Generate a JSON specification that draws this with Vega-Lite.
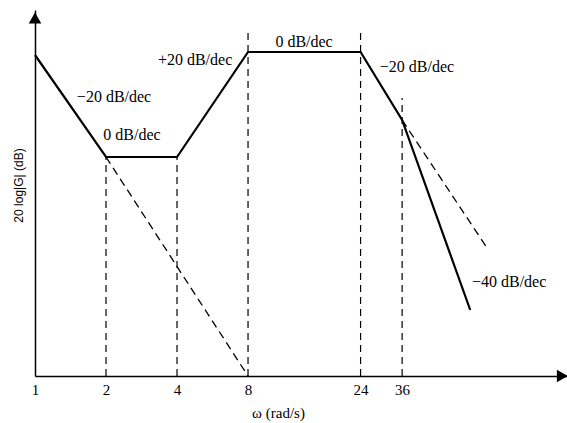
{
  "$schema": "https://vega.github.io/schema/vega-lite/v6.json",
  "width": 532,
  "height": 366,
  "autosize": "none",
  "padding": {"left": 35, "top": 10, "right": 0, "bottom": 47},
  "background": "white",
  "config": {"view": {"stroke": null}},
  "datasets": {
    "main": [
      {"w": 1, "db": 321},
      {"w": 2, "db": 219},
      {"w": 4, "db": 219},
      {"w": 8, "db": 324},
      {"w": 24, "db": 324},
      {"w": 36, "db": 256},
      {"w": 70, "db": 66}
    ],
    "asym": [
      {"g": "a", "w": 2, "db": 219},
      {"g": "a", "w": 8, "db": 0},
      {"g": "b", "w": 36, "db": 256},
      {"g": "b", "w": 82.5, "db": 128}
    ],
    "verts": [
      {"w": 2, "lo": 0, "hi": 219},
      {"w": 4, "lo": 0, "hi": 219},
      {"w": 8, "lo": 0, "hi": 343},
      {"w": 24, "lo": 0, "hi": 343},
      {"w": 36, "lo": 0, "hi": 278}
    ],
    "labels": [
      {"w": 2.163, "db": 279, "t": "−20 dB/dec"},
      {"w": 2.578, "db": 241, "t": "0 dB/dec"},
      {"w": 4.77, "db": 316, "t": "+20 dB/dec"},
      {"w": 13.82, "db": 334, "t": "0 dB/dec"},
      {"w": 41.6, "db": 309, "t": "−20 dB/dec"},
      {"w": 102.3, "db": 94, "t": "−40 dB/dec"}
    ],
    "arrows": [
      {"w": 1, "db": 358, "s": "triangle-up"},
      {"w": 172, "db": 0, "s": "triangle-right"}
    ]
  },
  "layer": [
    {
      "data": {"name": "main"},
      "mark": {"type": "line", "color": "black", "strokeWidth": 2.2},
      "encoding": {
        "x": {
          "field": "w", "type": "quantitative",
          "scale": {"type": "log", "domain": [1, 180], "nice": false},
          "axis": {
            "values": [1, 2, 4, 8, 24, 36],
            "format": "d",
            "grid": false, "ticks": false,
            "domain": true, "domainColor": "black", "domainWidth": 1.5,
            "labelFont": "Liberation Serif", "labelFontSize": 15, "labelColor": "black",
            "labelPadding": 6, "labelFlush": false,
            "title": "ω (rad/s)",
            "titleFont": "Liberation Serif", "titleFontSize": 15, "titleFontWeight": "normal",
            "titleColor": "black", "titlePadding": 8, "titleX": 243
          }
        },
        "y": {
          "field": "db", "type": "quantitative",
          "scale": {"domain": [0, 366], "nice": false, "zero": false},
          "axis": {
            "grid": false, "ticks": false, "labels": false,
            "domain": true, "domainColor": "black", "domainWidth": 1.5,
            "title": "20 log|G| (dB)",
            "titleFont": "Liberation Sans", "titleFontSize": 12, "titleFontWeight": "normal",
            "titleColor": "black", "titlePadding": 10, "titleY": 175
          }
        }
      }
    },
    {
      "data": {"name": "verts"},
      "mark": {"type": "rule", "color": "black", "strokeWidth": 1.2, "strokeDash": [7, 5]},
      "encoding": {
        "x": {"field": "w", "type": "quantitative"},
        "y": {"field": "lo", "type": "quantitative"},
        "y2": {"field": "hi"}
      }
    },
    {
      "data": {"name": "asym"},
      "mark": {"type": "line", "color": "black", "strokeWidth": 1.3, "strokeDash": [8, 5]},
      "encoding": {
        "x": {"field": "w", "type": "quantitative"},
        "y": {"field": "db", "type": "quantitative"},
        "detail": {"field": "g"}
      }
    },
    {
      "data": {"name": "labels"},
      "mark": {"type": "text", "font": "Liberation Serif", "fontSize": 16, "color": "black", "align": "center", "baseline": "middle"},
      "encoding": {
        "x": {"field": "w", "type": "quantitative"},
        "y": {"field": "db", "type": "quantitative"},
        "text": {"field": "t"}
      }
    },
    {
      "data": {"name": "arrows"},
      "mark": {"type": "point", "filled": true, "color": "black", "opacity": 1, "size": 160},
      "encoding": {
        "x": {"field": "w", "type": "quantitative"},
        "y": {"field": "db", "type": "quantitative"},
        "shape": {"field": "s", "type": "nominal", "scale": null}
      }
    }
  ]
}
